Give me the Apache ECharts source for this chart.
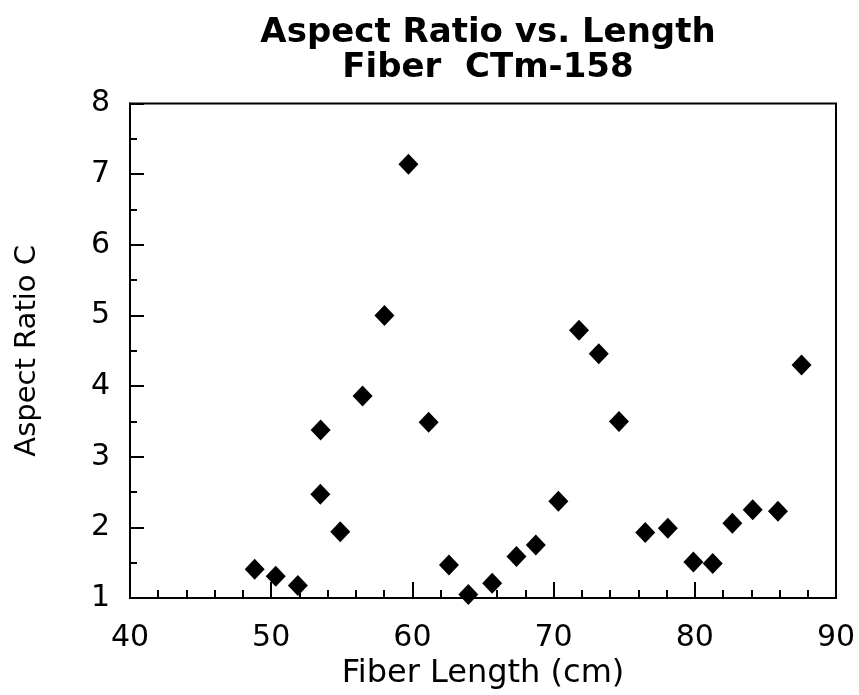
<!DOCTYPE html>
<html>
<head>
<meta charset="utf-8">
<script src="https://cdn.jsdelivr.net/npm/echarts@6/dist/echarts.min.js"></script>
<style>
  html, body { margin: 0; padding: 0; background: #fff; }
  #chart { width: 859px; height: 695px; }
</style>
</head>
<body>
<div id="chart"></div>
<script>
// Fiber length (cm) and aspect ratio C for each measured fiber segment
const fiberLength = [
  48.83, 50.32, 51.89, 53.50, 53.48, 54.89, 56.47, 58.02, 59.72, 61.15,
  62.59, 63.96, 65.65, 67.37, 68.74, 70.34, 71.80, 73.20, 74.63, 76.49,
  78.09, 79.90, 81.27, 82.66, 84.10, 85.89, 87.56
];
const aspectRatio = [
  1.41, 1.31, 1.18, 3.38, 2.47, 1.94, 3.86, 5.00, 7.14, 3.49,
  1.47, 1.05, 1.21, 1.59, 1.75, 2.37, 4.79, 4.46, 3.50, 1.93,
  1.99, 1.51, 1.49, 2.06, 2.25, 2.23, 4.30
];
const xTicks = [40, 50, 60, 70, 80, 90];
const yTicks = [1, 2, 3, 4, 5, 6, 7, 8];

const points = fiberLength.map((x, i) => [x, aspectRatio[i]]);
const FONT = '"DejaVu Sans", "Liberation Sans", Arial, sans-serif';

const chart = echarts.init(document.getElementById('chart'), null, { renderer: 'canvas' });

chart.setOption({
  animation: false,
  backgroundColor: '#ffffff',
  title: {
    text: 'Aspect Ratio vs. Length\nFiber  CTm-158',
    left: 483,
    textAlign: 'center',
    top: 11,
    textStyle: {
      fontFamily: FONT,
      fontWeight: 'bold',
      fontSize: 34,
      lineHeight: 35,
      color: '#000'
    }
  },
  grid: {
    left: 130, right: 23, top: 103.5, bottom: 91.5,
    show: true, borderColor: '#000', borderWidth: 2, backgroundColor: 'transparent'
  },
  xAxis: {
    type: 'value',
    min: xTicks[0],
    max: xTicks[xTicks.length - 1],
    interval: 10,
    axisLine: { show: true, lineStyle: { color: '#000', width: 2 } },
    axisTick: { show: true, inside: true, length: 16, lineStyle: { color: '#000', width: 2 } },
    minorTick: { show: true, splitNumber: 5, length: 8, lineStyle: { color: '#000', width: 2 } },
    splitLine: { show: false },
    axisLabel: {
      show: true, margin: 25,
      fontFamily: FONT, fontSize: 30, color: '#000',
      formatter: v => xTicks.includes(v) ? String(v) : ''
    },
    name: 'Fiber Length (cm)',
    nameLocation: 'middle',
    nameGap: 51,
    nameTextStyle: { fontFamily: FONT, fontSize: 32, color: '#000' }
  },
  yAxis: {
    type: 'value',
    min: yTicks[0],
    max: yTicks[yTicks.length - 1],
    interval: 1,
    axisLine: { show: true, lineStyle: { color: '#000', width: 2 } },
    axisTick: { show: true, inside: true, length: 14, lineStyle: { color: '#000', width: 2 } },
    minorTick: { show: true, splitNumber: 2, length: 7, lineStyle: { color: '#000', width: 2 } },
    splitLine: { show: false },
    axisLabel: {
      show: true, margin: 20,
      fontFamily: FONT, fontSize: 30, color: '#000',
      formatter: v => yTicks.includes(v) ? String(v) : ''
    },
    name: 'Aspect Ratio C',
    nameLocation: 'middle',
    nameGap: 88,
    nameRotate: 90,
    nameTextStyle: { fontFamily: FONT, fontSize: 29, color: '#000' }
  },
  series: [
    {
      type: 'scatter',
      data: points,
      symbol: 'diamond',
      symbolSize: [20, 21],
      itemStyle: { color: '#000', opacity: 1 },
      clip: false
    }
  ]
});
</script>
</body>
</html>
